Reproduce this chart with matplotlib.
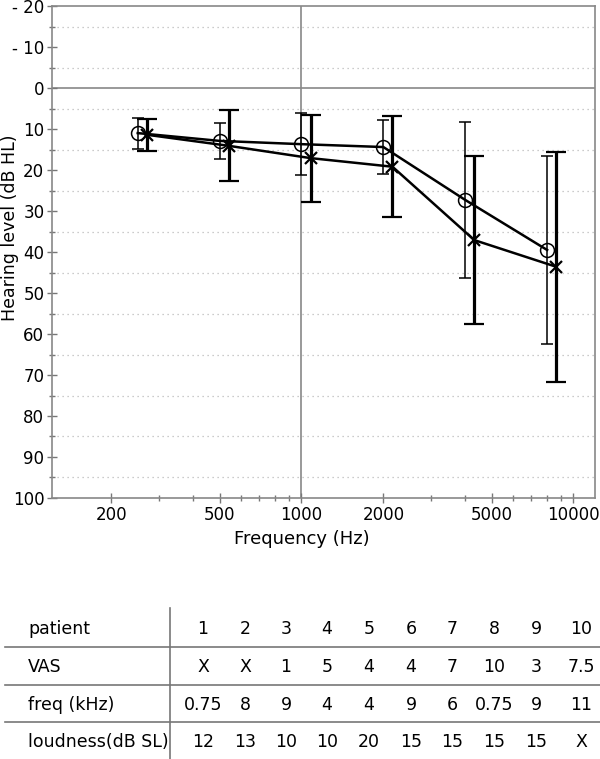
import numpy as np
import matplotlib
matplotlib.use("Agg")
import matplotlib.pyplot as plt
from matplotlib.ticker import FixedLocator, NullFormatter, FuncFormatter
from matplotlib.lines import Line2D

# circle series (thin error bars)
freq_o = [250, 500, 1000, 2000, 4000, 8000]
mean_o = [11.0, 12.9, 13.7, 14.4, 27.3, 39.5]
sd_o = [3.8, 4.3, 7.5, 6.5, 19.0, 23.0]

# cross series (thick error bars), drawn slightly shifted in frequency
freq_x = [270, 540, 1080, 2160, 4320, 8640]
mean_x = [11.4, 14.1, 17.1, 19.2, 37.1, 43.6]
sd_x = [3.9, 8.7, 10.6, 12.3, 20.5, 28.0]

# table under the chart
row_names = ["patient", "VAS", "freq (kHz)", "loudness(dB SL)"]
patient = ["1", "2", "3", "4", "5", "6", "7", "8", "9", "10"]
vas = ["X", "X", "1", "5", "4", "4", "7", "10", "3", "7.5"]
freq_khz = ["0.75", "8", "9", "4", "4", "9", "6", "0.75", "9", "11"]
loudness = ["12", "13", "10", "10", "20", "15", "15", "15", "15", "X"]

W, H = 600, 759
fig = plt.figure(figsize=(W / 100, H / 100), dpi=100)
ax = fig.add_axes([52 / W, 1 - 498 / H, 543 / W, 492 / H])

ax.set_xscale("log")
ax.set_xlim(121, 12000)
ax.set_ylim(100, -20)

ax.axhline(0, color="#888888", lw=1.2, zorder=1)
ax.axvline(1000, color="#888888", lw=1.2, zorder=1)
for y in np.arange(-15, 100, 10):
    ax.axhline(y, color="#bbbbbb", lw=0.9, ls=(0, (1, 3)), zorder=0)

ax.errorbar(freq_o, mean_o, yerr=sd_o, color="black", lw=1.8, elinewidth=1.1,
            capsize=4.3, capthick=1.1, marker="o", ms=10, mfc="none", mec="black",
            mew=1.1, zorder=3)
ax.errorbar(freq_x, mean_x, yerr=sd_x, color="black", lw=1.8, elinewidth=2.3,
            capsize=7, capthick=2.3, marker="x", ms=9, mew=1.6, zorder=4)

ax.xaxis.set_major_locator(FixedLocator([200, 500, 1000, 2000, 5000, 10000]))
ax.xaxis.set_major_formatter(FuncFormatter(lambda v, p: "%d" % v))
minors = [300, 400, 600, 700, 800, 900, 3000, 4000, 6000, 7000, 8000, 9000]
ax.xaxis.set_minor_locator(FixedLocator(minors))
ax.xaxis.set_minor_formatter(NullFormatter())

ax.yaxis.set_major_locator(FixedLocator(np.arange(-20, 101, 10)))
ax.yaxis.set_minor_locator(FixedLocator(np.arange(-15, 100, 10)))
ax.yaxis.set_major_formatter(FuncFormatter(lambda v, p: ("- %d" % -v) if v < 0 else "%d" % v))

for s in ax.spines.values():
    s.set_color("#888888")
    s.set_linewidth(1.2)
ax.tick_params(which="major", direction="inout", length=7, width=1, color="#777777",
               labelsize=12, labelcolor="black", pad=2)
ax.tick_params(which="minor", direction="inout", length=4, width=1, color="#777777")

ax.set_xlabel("Frequency (Hz)", fontsize=13)
ax.set_ylabel("Hearing level (dB HL)", fontsize=12.5)
ax.xaxis.set_label_coords(0.46, -0.065)
ax.yaxis.set_label_coords(-0.06, 0.55)

# table drawn in figure pixels
def fx(px):
    return px / W

def fy(py):
    return 1 - py / H

row_y = [629, 667, 705, 742]
col_x = [203, 245, 286, 327, 369, 411, 452, 494, 536, 581]
rows = [patient, vas, freq_khz, loudness]
for i, name in enumerate(row_names):
    fig.text(fx(28), fy(row_y[i]), name, fontsize=12.5, ha="left", va="center")
    for j, val in enumerate(rows[i]):
        fig.text(fx(col_x[j]), fy(row_y[i]), val, fontsize=12.5, ha="center", va="center")

for ly in [647, 685, 722]:
    fig.add_artist(Line2D([fx(5), fx(600)], [fy(ly), fy(ly)], color="#777777", lw=1.2))
fig.add_artist(Line2D([fx(170), fx(170)], [fy(608), fy(759)], color="#777777", lw=1.2))

fig.savefig("out.png", dpi=100)
